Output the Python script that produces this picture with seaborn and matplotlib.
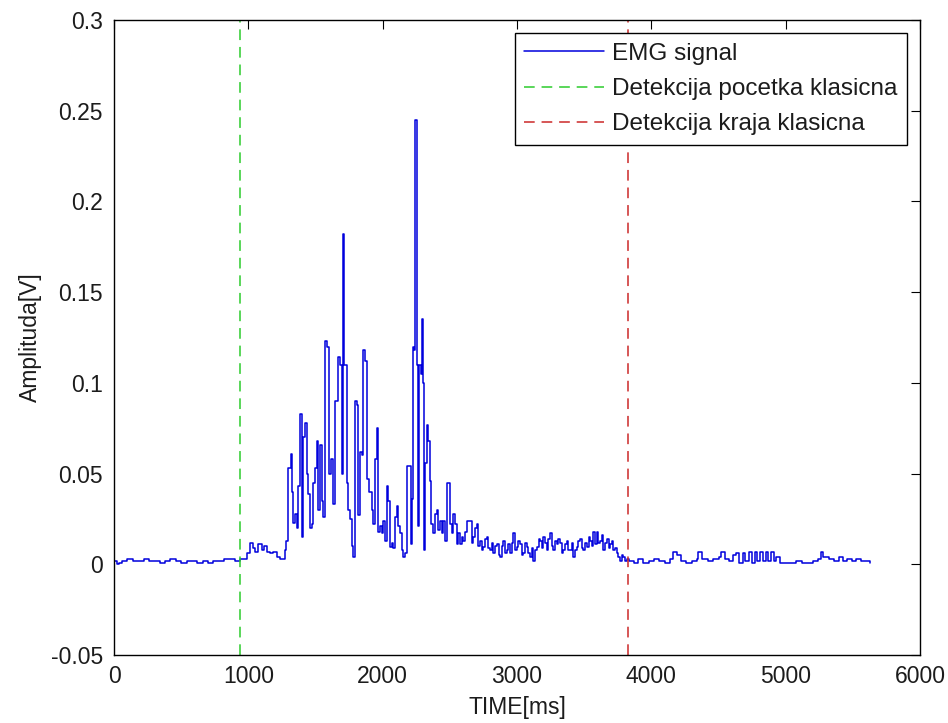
import matplotlib
matplotlib.use("Agg")
import matplotlib.pyplot as plt
import pandas as pd
import seaborn as sns

# EMG envelope samples: time [ms] and amplitude [V]
time_ms = [
    0, 20, 40, 60, 100, 140, 180, 220, 260, 300, 340, 380, 420, 460, 500,
    540, 580, 620, 660, 700, 740, 780, 820, 860, 900, 938,
    988, 1012, 1032, 1050, 1075, 1099, 1117, 1137, 1161, 1186, 1211, 1236,
    1256, 1273,
    1281, 1298, 1315, 1323, 1335, 1348, 1360, 1372, 1385, 1397, 1410, 1422,
    1434, 1447, 1459, 1472, 1479, 1497, 1509, 1521, 1534, 1546, 1559, 1571,
    1588, 1603, 1616, 1628, 1645, 1665, 1683, 1695, 1702, 1712, 1732, 1745,
    1757, 1770, 1782, 1794, 1812, 1819, 1831, 1844, 1851, 1869, 1881, 1886,
    1901, 1918, 1930, 1943, 1956, 1968, 1980, 1993, 2005, 2018, 2030, 2042,
    2055, 2067, 2080, 2092, 2105, 2117, 2129, 2142, 2154, 2167, 2179, 2198,
    2209, 2216, 2224, 2236, 2243, 2254, 2266, 2273, 2283, 2291, 2298, 2308,
    2315, 2328, 2340, 2353, 2360, 2377, 2390, 2402, 2415, 2427, 2440, 2452,
    2464, 2477, 2489, 2502, 2514, 2526, 2539, 2551, 2564, 2576, 2589, 2601,
    2614, 2626, 2650, 2663, 2675, 2688, 2700, 2712, 2725, 2738, 2750, 2762,
    2775, 2787, 2799, 2812, 2824, 2837, 2849, 2862, 2874, 2887, 2899, 2912,
    2924, 2936, 2948, 2961, 2973, 2986, 2998, 3010, 3023, 3035, 3047, 3060,
    3072, 3085, 3097, 3110, 3122, 3135, 3147, 3160, 3172, 3184, 3196, 3209,
    3221, 3234, 3246, 3259, 3271, 3284, 3296, 3308, 3320, 3333, 3345, 3358,
    3370, 3383, 3395, 3408, 3420, 3433, 3445, 3457, 3469, 3482, 3494, 3507,
    3519, 3532, 3544, 3557, 3569, 3581, 3594, 3606, 3618, 3631, 3643, 3656,
    3668, 3681, 3693, 3705, 3717, 3730, 3742, 3755, 3767, 3780, 3792, 3805,
    3817,
    3830, 3870, 3900, 3940, 3980, 4020, 4060, 4100, 4140, 4163, 4190, 4220,
    4260, 4300, 4340, 4350, 4380, 4420, 4460, 4500, 4520, 4550, 4580, 4610,
    4630, 4650, 4680, 4700, 4730, 4750, 4770, 4790, 4810, 4830, 4850, 4870,
    4890, 4910, 4930, 4960, 5000, 5040, 5080, 5120, 5160, 5200, 5240, 5260,
    5280, 5320, 5360, 5400, 5430, 5460, 5490, 5520, 5560, 5600, 5625,
]

amplitude_v = [
    0.002, 0.000, 0.001, 0.002, 0.003, 0.002, 0.002, 0.003, 0.002, 0.002,
    0.001, 0.002, 0.003, 0.002, 0.001, 0.002, 0.002, 0.001, 0.002, 0.001,
    0.002, 0.002, 0.003, 0.003, 0.002, 0.003,
    0.006, 0.012, 0.009, 0.007, 0.011, 0.008, 0.010, 0.007, 0.006, 0.007,
    0.004, 0.003, 0.003, 0.008,
    0.013, 0.053, 0.061, 0.040, 0.023, 0.028, 0.020, 0.043, 0.083, 0.015,
    0.070, 0.078, 0.050, 0.039, 0.020, 0.022, 0.045, 0.053, 0.068, 0.030,
    0.066, 0.035, 0.026, 0.123, 0.120, 0.050, 0.058, 0.033, 0.090, 0.114,
    0.110, 0.050, 0.182, 0.110, 0.045, 0.030, 0.025, 0.010, 0.004, 0.090,
    0.088, 0.027, 0.062, 0.060, 0.118, 0.112, 0.095, 0.047, 0.040, 0.030,
    0.022, 0.058, 0.075, 0.018, 0.021, 0.017, 0.024, 0.013, 0.043, 0.035,
    0.0095, 0.012, 0.009, 0.026, 0.032, 0.021, 0.017, 0.008, 0.004, 0.006,
    0.054, 0.054, 0.011, 0.036, 0.120, 0.118, 0.245, 0.110, 0.021, 0.110,
    0.105, 0.135, 0.100, 0.008, 0.056, 0.077, 0.068, 0.046, 0.022, 0.017,
    0.028, 0.030, 0.019, 0.024, 0.017, 0.024, 0.013, 0.045, 0.045, 0.022,
    0.017, 0.028, 0.022, 0.011, 0.017, 0.011, 0.015, 0.013, 0.018, 0.024,
    0.024, 0.012, 0.015, 0.020, 0.022, 0.010, 0.013, 0.008, 0.0095, 0.014,
    0.015, 0.009, 0.0077, 0.012, 0.006, 0.010, 0.011, 0.005, 0.004, 0.010,
    0.013, 0.006, 0.0077, 0.011, 0.006, 0.012, 0.017, 0.008, 0.0095, 0.013,
    0.011, 0.005, 0.006, 0.012, 0.0095, 0.006, 0.004, 0.009, 0.002, 0.008,
    0.0095, 0.014, 0.013, 0.009, 0.015, 0.012, 0.0077, 0.014, 0.017, 0.010,
    0.0077, 0.013, 0.011, 0.014, 0.012, 0.006, 0.0077, 0.011, 0.013, 0.008,
    0.0077, 0.012, 0.004, 0.008, 0.0095, 0.013, 0.014, 0.009, 0.0077, 0.012,
    0.0095, 0.015, 0.013, 0.010, 0.018, 0.011, 0.018, 0.012, 0.013, 0.016,
    0.0077, 0.012, 0.014, 0.009, 0.011, 0.013, 0.0077, 0.009, 0.006, 0.004,
    0.002, 0.005, 0.004, 0.002, 0.003,
    0.002, 0.001, 0.003, 0.001, 0.002, 0.003, 0.002, 0.001, 0.003, 0.007,
    0.005, 0.002, 0.001, 0.002, 0.003, 0.007, 0.003, 0.002, 0.003, 0.004,
    0.007, 0.003, 0.002, 0.005, 0.006, 0.001, 0.006, 0.002, 0.007, 0.001,
    0.007, 0.002, 0.007, 0.002, 0.007, 0.002, 0.007, 0.002, 0.004, 0.001,
    0.001, 0.001, 0.002, 0.001, 0.001, 0.002, 0.003, 0.007, 0.004, 0.003,
    0.002, 0.004, 0.002, 0.003, 0.002, 0.003, 0.002, 0.002, 0.001,
]

onset_ms = 938
offset_ms = 3828

x_ticks = [0, 1000, 2000, 3000, 4000, 5000, 6000]
x_tick_labels = ["0", "1000", "2000", "3000", "4000", "5000", "6000"]
y_ticks = [-0.05, 0, 0.05, 0.1, 0.15, 0.2, 0.25, 0.3]
y_tick_labels = ["-0.05", "0", "0.05", "0.1", "0.15", "0.2", "0.25", "0.3"]

sns.set_style("white")
plt.rcParams["font.family"] = ["Liberation Sans", "DejaVu Sans"]
plt.rcParams["axes.unicode_minus"] = False

FS = 16.5
TXT = "#1c1c1c"

fig = plt.figure(figsize=(9.48, 7.23), dpi=100)
fig.patch.set_facecolor("white")
ax = fig.add_axes([0.1203, 0.094, 0.8502, 0.8783])

emg = pd.DataFrame({"time": time_ms, "amp": amplitude_v})
sns.lineplot(data=emg, x="time", y="amp", ax=ax, color="#0000dd", lw=1.1,
             drawstyle="steps-post", estimator=None, sort=False,
             label="EMG signal")
ax.axvline(onset_ms, color="#2ccc2c", lw=1.1, ls=(0, (7, 4.5)),
           label="Detekcija pocetka klasicna")
ax.axvline(offset_ms, color="#cc2828", lw=1.1, ls=(0, (7, 4.5)),
           label="Detekcija kraja klasicna")

ax.set_xlim(0, 6000)
ax.set_ylim(-0.05, 0.3)
ax.set_xticks(x_ticks)
ax.set_xticklabels(x_tick_labels)
ax.set_yticks(y_ticks)
ax.set_yticklabels(y_tick_labels)
ax.tick_params(direction="in", length=6.5, width=0.8, top=True, right=True,
               color="black", labelcolor=TXT, labelsize=FS)
ax.tick_params(axis="x", pad=7)
ax.tick_params(axis="y", pad=8)
for s in ax.spines.values():
    s.set_color("black")
    s.set_linewidth(1.0)

ax.set_xlabel("TIME[ms]", fontsize=FS, color=TXT, labelpad=6)
ax.set_ylabel("Amplituda[V]", fontsize=FS, color=TXT, labelpad=6)

leg = ax.legend(loc="upper right", frameon=True, fancybox=False,
                edgecolor="black", framealpha=1, fontsize=17.5,
                handlelength=3.3, handletextpad=0.33, borderaxespad=0.55,
                labelspacing=0.55, borderpad=0.38)
leg.get_frame().set_linewidth(1.0)
for t in leg.get_texts():
    t.set_color(TXT)

fig.savefig("out.png", dpi=100, facecolor="white")
